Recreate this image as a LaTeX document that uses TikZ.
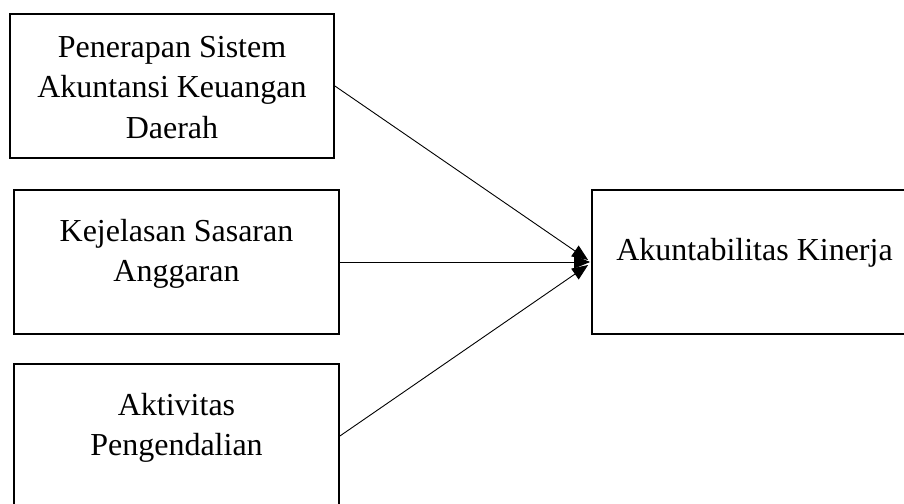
\documentclass[tikz,border=0pt]{standalone}
\usepackage{fontspec}
\setmainfont{Liberation Serif}
\usetikzlibrary{arrows.meta}
\begin{document}
\begin{tikzpicture}[x=1pt,y=-1pt,
  box/.style={draw,line width=1.8pt,minimum width=325pt,minimum height=144pt,inner sep=0pt},
  txt/.style={align=center,inner sep=0pt,font=\fontsize{32}{40.5}\selectfont},
  conn/.style={line width=0.9pt,-{Triangle[length=16pt,width=13pt]}}]
\path[use as bounding box,clip] (0,0) rectangle (904,503);
\node[box,minimum width=324pt] (b1) at (172,86) {};
\node[box] (b2) at (176.5,262) {};
\node[box] (b3) at (176.5,436) {};
\node[box] (b4) at (754.5,262) {};
\node[txt] (t1) at (172,87.5) {Penerapan Sistem\\Akuntansi Keuangan\\Daerah};
\node[txt] (t2) at (176.5,254) {Kejelasan Sasaran\\Anggaran};
\node[txt] (t3) at (176.5,428) {Aktivitas\\Pengendalian};
\node[txt] (t4) at (754.5,253) {Akuntabilitas Kinerja};
\coordinate (tip1) at ([xshift=-3pt,yshift=2pt]b4.west);
\coordinate (tip2) at ([xshift=-1pt]b4.west);
\coordinate (tip3) at ([xshift=-3pt,yshift=-3pt]b4.west);
\draw[conn] (b1.east) -- (tip1);
\draw[conn] (b2.east) -- (tip2);
\draw[conn] (b3.east) -- (tip3);
\end{tikzpicture}
\end{document}
